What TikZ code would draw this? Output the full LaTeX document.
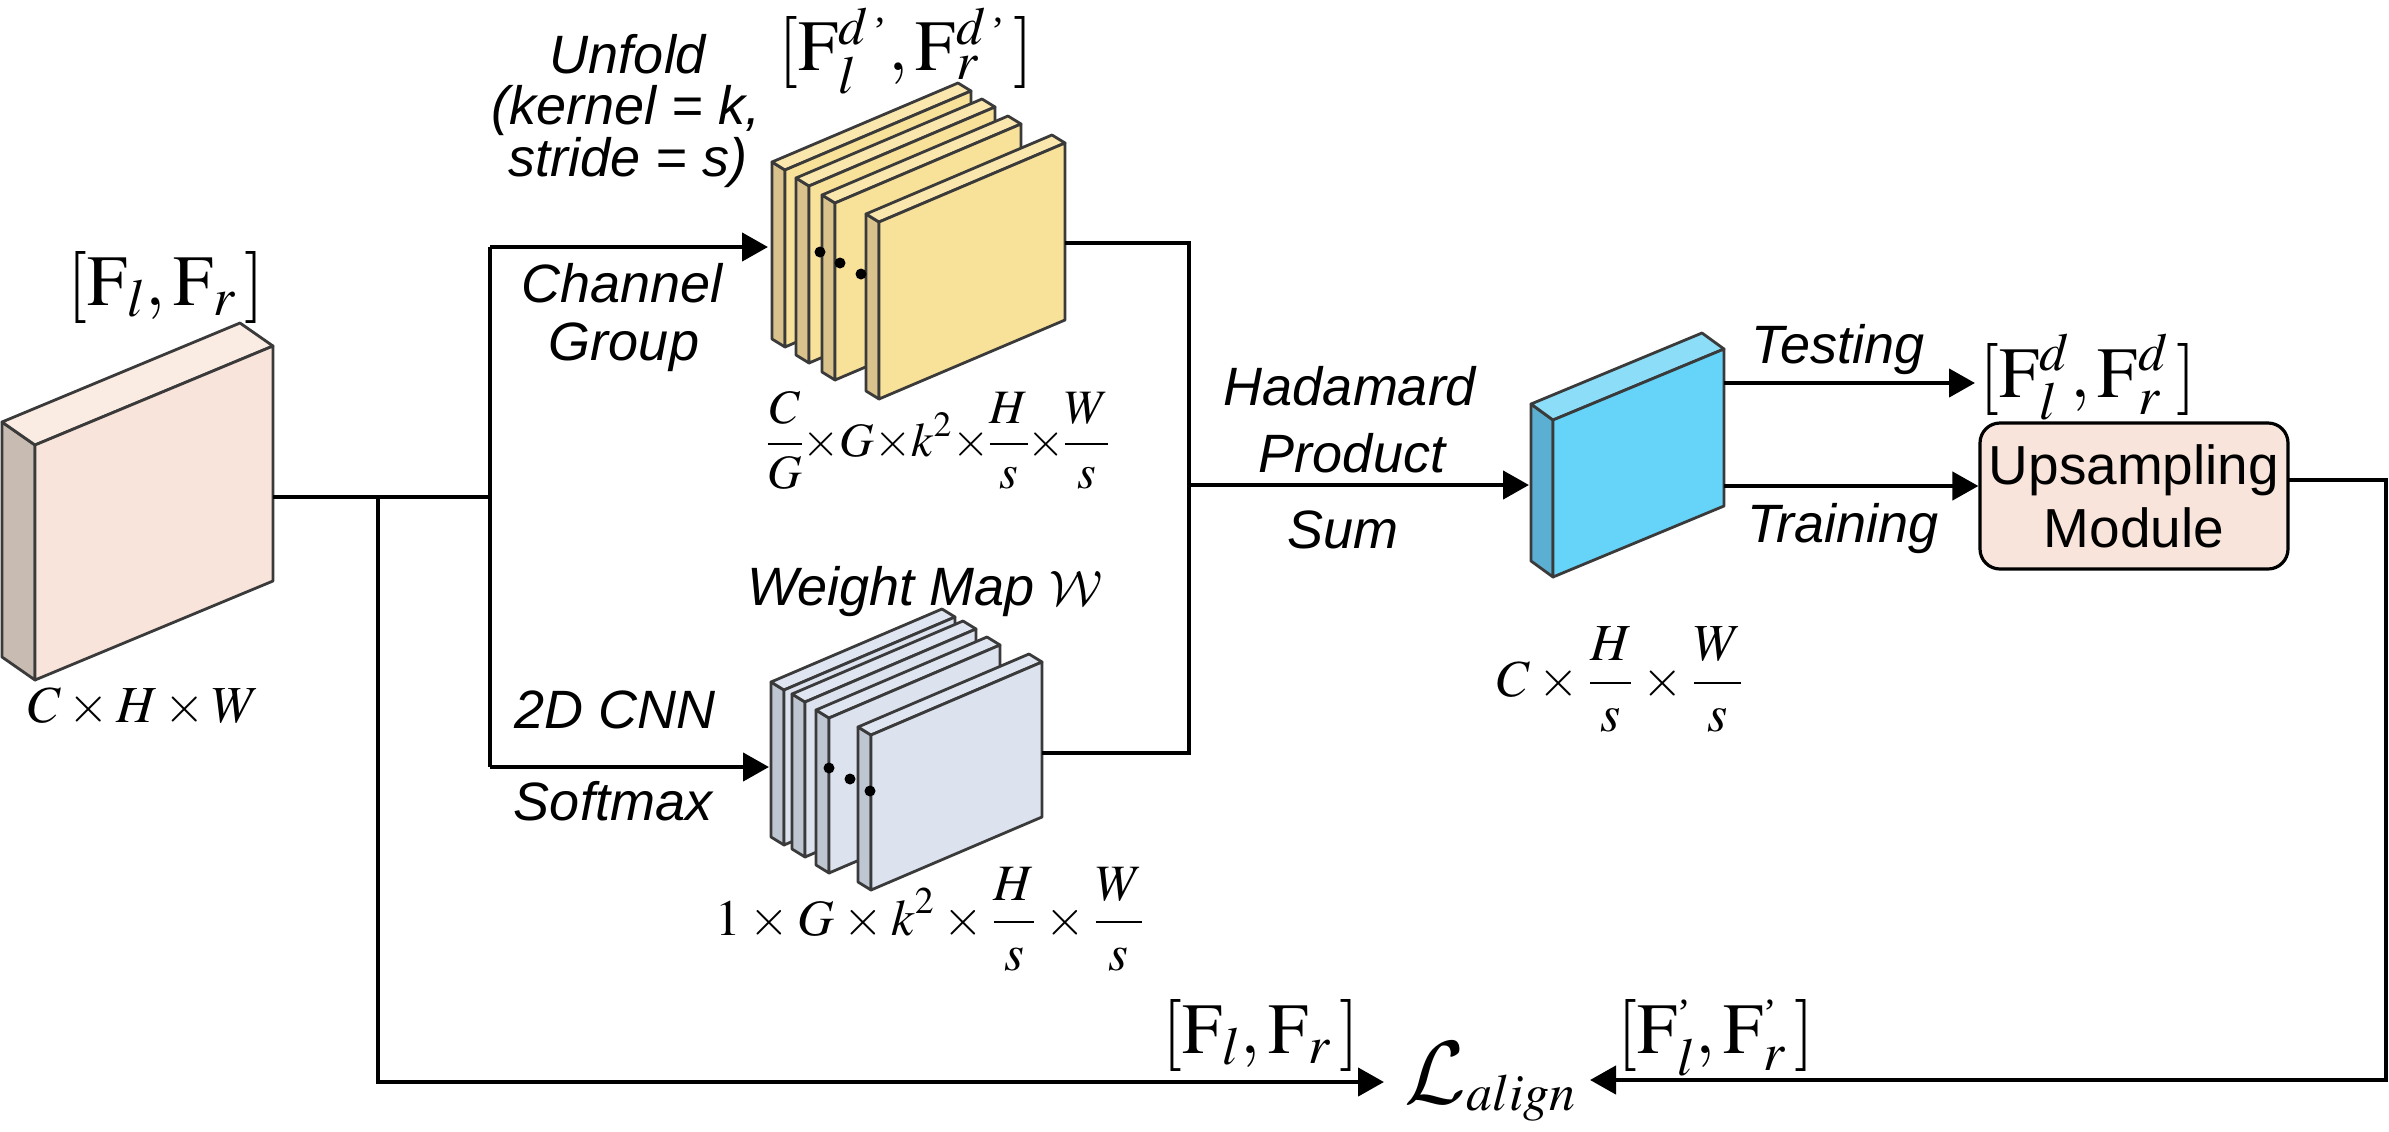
\documentclass[tikz,border=0pt]{standalone}
\usepackage{mathptmx}
\DeclareMathAlphabet{\mathcal}{OMS}{lmsy}{m}{n}
\usepackage[no-math]{fontspec}
\setmainfont{Liberation Serif}
\setsansfont{Liberation Sans}
\usetikzlibrary{arrows.meta}
\definecolor{pinkF}{HTML}{F8E4DA}
\definecolor{pinkT}{HTML}{FAEBE3}
\definecolor{pinkS}{HTML}{C8BBB1}
\definecolor{yelF}{HTML}{F8E29A}
\definecolor{yelT}{HTML}{FAE7AE}
\definecolor{yelS}{HTML}{D9C28B}
\definecolor{gryF}{HTML}{DCE3EF}
\definecolor{gryT}{HTML}{E0E6F1}
\definecolor{gryS}{HTML}{BEC6D2}
\definecolor{bluF}{HTML}{66D3F8}
\definecolor{bluT}{HTML}{8CDDF8}
\definecolor{bluS}{HTML}{5BAFD2}
\definecolor{edge}{HTML}{3A3A3A}
\newcommand{\labfont}{\fontsize{27}{32}\selectfont\sffamily\itshape}
\newcommand{\upfont}{\fontsize{27.5}{31.5}\selectfont\sffamily}
\newcommand{\dimfont}{\fontsize{26}{31}\selectfont}
\newcommand{\brfont}{\fontsize{36}{43}\selectfont}
\newcommand{\tick}{\mbox{\fontsize{20}{20}\selectfont\rmfamily '}}
\newcommand{\lowsup}[1]{\raisebox{-6pt}{$\scriptstyle #1$}}
% x y w rise h dx dy colourprefix
\newcommand{\drawslab}[8]{%
  \filldraw[slabline, fill=#8S] (#1,#2) -- ({#1-#6},{#2-#7}) -- ({#1-#6},{#2-#7+#5}) -- (#1,{#2+#5}) -- cycle;
  \filldraw[slabline, fill=#8T] (#1,#2) -- ({#1-#6},{#2-#7}) -- ({#1+#3-#6},{#2-#4-#7}) -- ({#1+#3},{#2-#4}) -- cycle;
  \filldraw[slabline, fill=#8F] (#1,#2) -- ({#1+#3},{#2-#4}) -- ({#1+#3},{#2-#4+#5}) -- (#1,{#2+#5}) -- cycle;
}
\begin{document}
\begin{tikzpicture}[x=0.5pt,y=-0.5pt,
  slabline/.style={draw=edge, line width=1.4pt, line join=round},
  conn/.style={draw=black, line width=2.2pt},
  arr/.style={conn, -{Triangle[length=13pt,width=14pt]}},
  lbl/.style={font=\labfont, inner sep=0pt, anchor=base},
  mth/.style={inner sep=0pt, anchor=base},
  dotm/.style={fill=black}]
\fill[white] (0,0) rectangle (2389,1131);
\useasboundingbox (0,0) rectangle (2389,1131);

% ---- input feature block
\drawslab{35}{445}{238}{99}{235}{33}{23}{pink}
\node[mth, font=\brfont] (finL) at (166,305) {$[\mathrm{F}_l,\mathrm{F}_r\,]$};
\node[mth, font=\dimfont] (dimIn) at (144,722) {$C\times H\times W$};

% ---- unfolded features (yellow stack)
\drawslab{785}{170}{186}{79}{177}{13}{8}{yel}
\drawslab{809}{186}{186}{79}{177}{13}{8}{yel}
\drawslab{835}{203}{186}{79}{177}{13}{8}{yel}
\drawslab{879}{222}{186}{79}{177}{13}{8}{yel}
\fill[dotm] (820,252) circle (5.5);
\fill[dotm] (840,263) circle (5.5);
\fill[dotm] (861,274) circle (5.5);
\node[mth, font=\brfont] (fdp) at (906,70) {$[\mathrm{F}_l^{\lowsup{d\,\tick}},\mathrm{F}_r^{\lowsup{d\,\tick}}\,]$};
\node[mth, font=\fontsize{24}{29}\selectfont] (dimY) at (938,456) {$\medmuskip=0mu\nulldelimiterspace=0pt\displaystyle\frac{C}{G}\times G\times k^2\times\frac{H}{s}\times\frac{W}{s}$};

% ---- weight map (grey stack)
\drawslab{784}{690}{171}{73}{155}{13}{8}{gry}
\drawslab{805}{702}{171}{73}{155}{13}{8}{gry}
\drawslab{829}{718}{171}{73}{155}{13}{8}{gry}
\drawslab{871}{735}{171}{73}{155}{13}{8}{gry}
\fill[dotm] (829,768) circle (5.5);
\fill[dotm] (850,779) circle (5.5);
\fill[dotm] (870,791) circle (5.5);
\node[lbl] (wmap) at (925,605) {Weight Map $\mathcal{W}$};
\node[mth, font=\fontsize{25.5}{30}\selectfont] (dimG) at (930,935) {$\medmuskip=3mu\displaystyle 1\times G\times k^2\times\frac{H}{s}\times\frac{W}{s}$};

% ---- aggregated (blue block)
\drawslab{1553}{420}{171}{71}{157}{22}{16}{blu}
\node[mth, font=\dimfont] (dimB) at (1620,696) {$\medmuskip=3mu\displaystyle C\times\frac{H}{s}\times\frac{W}{s}$};

% ---- outputs
\node[mth, font=\brfont] (fd) at (2088,397) {$[\mathrm{F}_l^{d},\mathrm{F}_r^{d}\,]$};
\node[draw=black, line width=1.6pt, rounded corners=10pt, fill=pinkF,
      minimum width=154pt, minimum height=73pt, inner sep=0pt,
      align=center, font=\upfont] (ups) at (2134,496) {Upsampling\\Module};

% ---- loss
\node[mth, font=\brfont] (fb) at (1261,1053) {$[\mathrm{F}_l,\mathrm{F}_r\,]$};
\node[mth] (loss) at (1490,1103) {{\fontsize{24}{28}\selectfont\scalebox{1.8}{$\mathcal{L}$}}\raisebox{-3.5pt}{\fontsize{26}{30}\selectfont$align$}};
\node[mth, font=\brfont] (fpr) at (1716,1053) {$[\mathrm{F}_l^{\tick},\mathrm{F}_r^{\tick}\,]$};

% ---- edge labels
\node[lbl] (t1) at (628,73) {Unfold};
\node[lbl] (t2) at (626,124) {(kernel = k,};
\node[lbl] (t3) at (628,176) {stride = s)};
\node[lbl] (t4) at (622,302) {Channel};
\node[lbl] (t5) at (624,360) {Group};
\node[lbl] (t6) at (615,728) {2D CNN};
\node[lbl] (t7) at (613,820) {Softmax};
\node[lbl] (t8) at (1350,405) {Hadamard};
\node[lbl] (t9) at (1352,472) {Product};
\node[lbl] (t10) at (1343,548) {Sum};
\node[lbl] (t11) at (1838,363) {Testing};
\node[lbl] (t12) at (1843,542) {Training};

% ---- connection points
\coordinate (pR) at (273,497);
\coordinate (jA) at (378,497);
\coordinate (jB) at (490,497);
\coordinate (jBt) at (490,247);
\coordinate (jBb) at (490,767);
\coordinate (yIn) at (768,247);
\coordinate (gIn) at (769,767);
\coordinate (yOut) at (1065,243);
\coordinate (gOut) at (1042,753);
\coordinate (jCt) at (1189,243);
\coordinate (jCm) at (1189,485);
\coordinate (jCb) at (1189,753);
\coordinate (bIn) at (1529,485);
\coordinate (bOutT) at (1724,383);
\coordinate (bOutB) at (1724,486);
\coordinate (fdIn) at (1975,383);
\coordinate (upsOut) at (2288,480);
\coordinate (rC) at (2386,480);
\coordinate (rB) at (2386,1080);
\coordinate (lossR) at (1590,1080);
\coordinate (lB) at (378,1082);
\coordinate (lossL) at (1384,1082);

% ---- connectors
\draw[conn] (pR) -- (jB);
\draw[conn] (jBt) -- (jBb);
\draw[arr] (jBt) -- (yIn);
\draw[arr] (jBb) -- (gIn);
\draw[conn] (yOut) -- (jCt) -- (jCb) -- (gOut);
\draw[arr] (jCm) -- (bIn);
\draw[arr] (bOutT) -- (fdIn);
\draw[arr] (bOutB) -- (ups.west |- bOutB);
\draw[arr] (upsOut) -- (rC) -- (rB) -- (lossR);
\draw[arr] (jA) -- (lB) -- (lossL);
\end{tikzpicture}
\end{document}
